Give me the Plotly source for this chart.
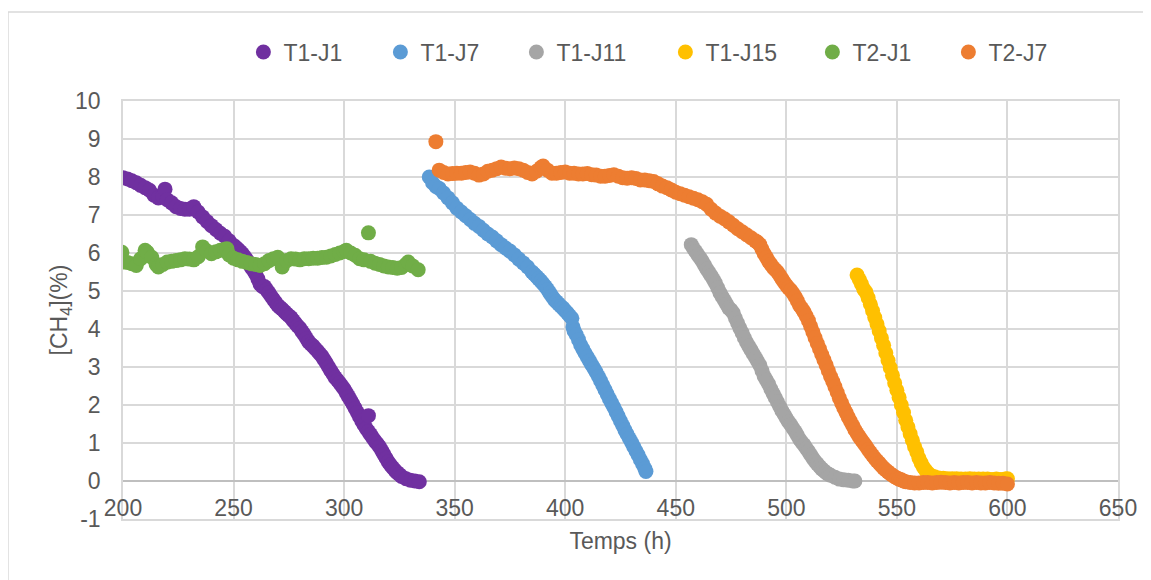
import plotly.graph_objects as go

# ---------------- data ----------------
t1j1_x = [200, 202, 204, 206, 208, 210, 212, 214, 216, 218, 219, 220, 222, 224, 226, 228, 230, 232, 234, 236,
          238, 240, 242, 244, 246, 248, 250, 251, 252, 253, 254, 255, 256, 257, 258, 259, 260, 261, 262, 263,
          264, 265, 266, 267, 268, 269, 270, 271, 272, 273, 274, 275, 276, 277, 278, 279, 280, 281, 282, 283,
          284, 285, 286, 287, 288, 289, 290, 291, 292, 293, 294, 295, 296, 297, 298, 299, 300, 301, 302, 303,
          304, 305, 306, 307, 308, 309, 310, 311, 311, 312, 313, 314, 315, 316, 317, 318, 319, 320, 321, 322,
          323, 324, 325, 326, 328, 330, 332, 334]
t1j1_y = [7.98, 7.95, 7.90, 7.85, 7.78, 7.72, 7.65, 7.52, 7.45, 7.50, 7.68, 7.40, 7.32, 7.22, 7.17, 7.15, 7.15, 7.22, 7.08, 6.95,
          6.83, 6.72, 6.62, 6.52, 6.44, 6.32, 6.20, 6.15, 6.10, 6.04, 5.98, 5.90, 5.82, 5.72, 5.62, 5.54, 5.45, 5.32, 5.18, 5.12,
          5.12, 5.03, 4.95, 4.86, 4.78, 4.70, 4.62, 4.57, 4.52, 4.46, 4.40, 4.35, 4.30, 4.22, 4.15, 4.08, 4.02, 3.93, 3.85, 3.75,
          3.66, 3.60, 3.55, 3.48, 3.42, 3.35, 3.28, 3.19, 3.10, 3.00, 2.90, 2.81, 2.72, 2.65, 2.58, 2.50, 2.42, 2.32, 2.22, 2.12,
          2.02, 1.91, 1.80, 1.69, 1.58, 1.48, 1.38, 1.30, 1.72, 1.22, 1.13, 1.05, 0.98, 0.90, 0.80, 0.70, 0.60, 0.50, 0.42, 0.35,
          0.28, 0.22, 0.17, 0.12, 0.06, 0.02, 0.00, -0.02]

t1j7_x = [338.5, 340, 341.5, 343, 345, 347, 349, 351, 353, 355, 357, 359, 361, 363, 365, 367, 369, 371, 373, 375,
          377, 379, 381, 383, 385, 386, 387, 388, 389, 390, 391, 392, 393, 394, 395, 396, 397, 398, 399, 400,
          401, 402, 403, 403.5, 404, 405, 406, 407, 408, 409, 410, 411, 412, 413, 414, 415, 416, 417, 418, 419,
          420, 421, 422, 423, 424, 425, 426, 427, 428, 429, 430, 431, 432, 433, 434, 435, 436, 436.5]
t1j7_y = [8.00, 7.85, 7.75, 7.70, 7.58, 7.45, 7.32, 7.18, 7.08, 6.98, 6.88, 6.78, 6.70, 6.60, 6.50, 6.42, 6.32, 6.22, 6.13, 6.05,
          5.95, 5.84, 5.74, 5.63, 5.50, 5.44, 5.38, 5.32, 5.26, 5.19, 5.12, 5.04, 4.95, 4.86, 4.78, 4.72, 4.66, 4.60, 4.55, 4.48,
          4.42, 4.35, 4.28, 4.05, 3.95, 3.85, 3.72, 3.58, 3.47, 3.36, 3.26, 3.16, 3.06, 2.96, 2.86, 2.75, 2.64, 2.52, 2.40, 2.28,
          2.16, 2.05, 1.94, 1.82, 1.70, 1.58, 1.46, 1.34, 1.23, 1.12, 1.01, 0.90, 0.79, 0.68, 0.56, 0.45, 0.33, 0.25]

t1j11_x = [457, 458, 459, 460, 461, 462, 463, 464, 465, 466, 467, 468, 469, 470, 471, 472, 473, 474, 475, 476,
           477, 478, 479, 480, 481, 482, 483, 484, 485, 486, 487, 488, 489, 490, 491, 492, 493, 494, 495, 496,
           497, 498, 499, 500, 501, 502, 503, 504, 505, 506, 507, 508, 509, 510, 511, 512, 513, 514, 515, 516,
           517, 518, 519, 520, 522, 524, 526, 528, 530, 531]
t1j11_y = [6.22, 6.12, 6.04, 5.95, 5.87, 5.78, 5.68, 5.58, 5.49, 5.40, 5.30, 5.20, 5.08, 4.95, 4.85, 4.75, 4.65, 4.55, 4.50, 4.42,
           4.28, 4.15, 4.02, 3.90, 3.77, 3.65, 3.55, 3.45, 3.35, 3.25, 3.15, 3.05, 2.90, 2.75, 2.65, 2.55, 2.42, 2.30, 2.19, 2.08,
           1.96, 1.85, 1.75, 1.65, 1.56, 1.48, 1.39, 1.30, 1.20, 1.10, 1.02, 0.95, 0.86, 0.78, 0.69, 0.60, 0.52, 0.45, 0.38, 0.32,
           0.27, 0.22, 0.18, 0.15, 0.10, 0.05, 0.03, 0.02, 0.00, 0.00]

t1j15_x = [532, 533, 534, 535, 536, 537, 538, 539, 540, 541, 542, 543, 544, 545, 546, 547, 548, 549, 550, 551,
           552, 553, 554, 555, 556, 557, 558, 559, 560, 561, 562, 563, 564, 565, 567, 569, 571, 573, 575, 577,
           579, 581, 583, 585, 587, 589, 591, 593, 595, 597, 599, 600]
t1j15_y = [5.42, 5.30, 5.18, 5.05, 4.97, 4.82, 4.65, 4.48, 4.30, 4.13, 3.95, 3.76, 3.57, 3.37, 3.17, 2.98, 2.78, 2.58, 2.39, 2.20,
           2.00, 1.80, 1.60, 1.42, 1.24, 1.07, 0.90, 0.76, 0.60, 0.47, 0.36, 0.28, 0.21, 0.16, 0.11, 0.08, 0.07, 0.06, 0.06, 0.06,
           0.05, 0.05, 0.06, 0.05, 0.05, 0.05, 0.05, 0.04, 0.05, 0.04, 0.05, 0.06]

t2j1_x = [199.5, 200, 202, 204, 206, 208, 210, 211, 213, 215, 216, 218, 220, 222, 224, 226, 228, 230, 232, 234,
          236, 238, 240, 242, 244, 246, 247, 248, 250, 252, 254, 256, 258, 260, 262, 264, 266, 268, 270, 272,
          274, 276, 278, 280, 282, 284, 286, 288, 290, 292, 294, 296, 298, 300, 301, 303, 305, 307, 309, 311,
          312, 314, 316, 318, 320, 322, 324, 326, 328, 329, 331, 333.5]
t2j1_y = [6.02, 5.76, 5.75, 5.72, 5.67, 5.85, 6.07, 6.02, 5.89, 5.70, 5.63, 5.70, 5.76, 5.78, 5.80, 5.82, 5.85, 5.84, 5.82, 5.90,
          6.16, 6.05, 5.98, 6.03, 6.07, 6.10, 6.11, 5.95, 5.86, 5.82, 5.78, 5.75, 5.72, 5.70, 5.67, 5.72, 5.80, 5.85, 5.89, 5.63,
          5.80, 5.85, 5.84, 5.82, 5.85, 5.85, 5.86, 5.86, 5.88, 5.89, 5.92, 5.96, 6.00, 6.04, 6.07, 6.00, 5.94, 5.85, 5.82, 6.53,
          5.78, 5.73, 5.70, 5.66, 5.63, 5.62, 5.60, 5.62, 5.70, 5.76, 5.66, 5.56]

t2j7_x = [341.5, 343, 345, 347, 349, 351, 353, 355, 357, 359, 361, 363, 365, 367, 369, 371, 373, 375, 377, 379,
          381, 383, 385, 387, 389, 390, 392, 394, 396, 398, 400, 402, 404, 406, 408, 410, 412, 414, 416, 418,
          420, 422, 424, 426, 428, 430, 432, 434, 436, 438, 440, 442, 444, 446, 448, 450, 452, 454, 456, 458,
          460, 462, 464, 466, 468, 470, 472, 474, 476, 478, 480, 482, 484, 486, 487, 488, 489, 490, 491, 492,
          493, 494, 495, 496, 497, 498, 499, 500, 501, 502, 503, 504, 505, 506, 507, 508, 509, 510, 511, 512,
          513, 514, 515, 516, 517, 518, 519, 520, 521, 522, 523, 524, 525, 526, 527, 528, 529, 530, 531, 532,
          533, 534, 535, 536, 537, 538, 539, 540, 541, 542, 543, 544, 545, 546, 547, 548, 549, 550, 551, 552,
          553, 554, 556, 558, 560, 562, 564, 566, 568, 570, 572, 574, 576, 578, 580, 582, 584, 586, 588, 590,
          592, 594, 596, 598, 600]
t2j7_y = [8.93, 8.18, 8.12, 8.08, 8.09, 8.10, 8.10, 8.12, 8.13, 8.10, 8.05, 8.08, 8.15, 8.18, 8.22, 8.26, 8.23, 8.22, 8.24, 8.22,
          8.18, 8.12, 8.08, 8.15, 8.25, 8.29, 8.18, 8.10, 8.10, 8.12, 8.13, 8.10, 8.10, 8.08, 8.08, 8.09, 8.06, 8.05, 8.02, 8.02,
          8.04, 8.06, 8.02, 7.98, 7.97, 7.98, 7.96, 7.92, 7.92, 7.90, 7.88, 7.82, 7.76, 7.72, 7.66, 7.60, 7.56, 7.52, 7.48, 7.44,
          7.40, 7.35, 7.28, 7.15, 7.05, 6.97, 6.90, 6.82, 6.73, 6.64, 6.56, 6.48, 6.40, 6.32, 6.28, 6.22, 6.10, 5.98, 5.88, 5.78,
          5.70, 5.62, 5.56, 5.50, 5.41, 5.32, 5.23, 5.15, 5.08, 5.02, 4.94, 4.85, 4.74, 4.62, 4.54, 4.45, 4.34, 4.22, 4.07, 3.92,
          3.77, 3.62, 3.48, 3.33, 3.19, 3.05, 2.90, 2.75, 2.62, 2.48, 2.33, 2.18, 2.05, 1.92, 1.80, 1.68, 1.57, 1.46, 1.35, 1.25,
          1.16, 1.08, 1.00, 0.92, 0.83, 0.75, 0.67, 0.60, 0.53, 0.47, 0.40, 0.34, 0.29, 0.24, 0.19, 0.15, 0.11, 0.08, 0.05, 0.03,
          0.00, -0.02, -0.04, -0.05, -0.05, -0.04, -0.04, -0.05, -0.04, -0.03, -0.04, -0.05, -0.04, -0.05, -0.04, -0.04, -0.05, -0.04, -0.05, -0.05,
          -0.04, -0.05, -0.06, -0.06, -0.08]

series_names = ["T1-J1", "T1-J7", "T1-J11", "T1-J15", "T2-J1", "T2-J7"]
series_x = [t1j1_x, t1j7_x, t1j11_x, t1j15_x, t2j1_x, t2j7_x]
series_y = [t1j1_y, t1j7_y, t1j11_y, t1j15_y, t2j1_y, t2j7_y]
series_colors = ["#7030A0", "#5B9BD5", "#A5A5A5", "#FFC000", "#70AD47", "#ED7D31"]
legend_widths = [92, 91, 104, 102, 91, 91]

x_ticks = [200, 250, 300, 350, 400, 450, 500, 550, 600, 650]
y_ticks = [-1, 0, 1, 2, 3, 4, 5, 6, 7, 8, 9, 10]

FONT = "Liberation Sans Narrow, Arial Narrow, Liberation Sans, Arial, sans-serif"
TXT = "#595959"
GRID = "#D9D9D9"

fig = go.Figure()
for name, xs, ys, col, lw in zip(series_names, series_x, series_y, series_colors, legend_widths):
    fig.add_trace(go.Scatter(
        x=xs, y=ys, name=name, mode="markers",
        marker=dict(size=15, color=col, line=dict(width=0)),
        legendwidth=lw,
    ))

# page body has an 8px margin: the figure is sized/offset to compensate
fig.update_layout(
    width=1143, height=572,
    margin=dict(l=115, r=33, t=93, b=61, autoexpand=False),
    paper_bgcolor="white", plot_bgcolor="white",
    font=dict(family=FONT, size=23, color=TXT),
    showlegend=True,
    legend=dict(
        orientation="h", x=0.121, xanchor="left", y=1.117, yanchor="middle",
        font=dict(family=FONT, size=23, color=TXT),
        bgcolor="rgba(0,0,0,0)",
        itemclick=False,
    ),
    shapes=[dict(type="rect", xref="paper", yref="paper",
                 x0=-0.1156, x1=1.05, y0=-0.2, y1=1.213,
                 line=dict(color=GRID, width=1.5), fillcolor="rgba(0,0,0,0)", layer="below")],
)

fig.update_xaxes(
    range=[200, 650], tickvals=x_ticks, ticktext=[str(v) for v in x_ticks],
    showgrid=True, gridcolor=GRID, gridwidth=1.5,
    showline=True, linecolor=GRID, linewidth=1.5, mirror=True,
    zeroline=False, ticks="",
    ticklabelposition="inside", ticklabeloverflow="allow",
    tickfont=dict(family=FONT, size=23, color=TXT),
    title=dict(text="Temps (h)", font=dict(family=FONT, size=23, color=TXT), standoff=13),
    automargin=False,
)
fig.update_yaxes(
    range=[-1, 10], tickvals=y_ticks, ticktext=[str(v) for v in y_ticks],
    showgrid=True, gridcolor=GRID, gridwidth=1.5,
    showline=True, linecolor=GRID, linewidth=1.5, mirror=True,
    zeroline=True, zerolinecolor="#BFBFBF", zerolinewidth=1.5,
    ticks="", ticklabelstandoff=16,
    tickfont=dict(family=FONT, size=23, color=TXT),
    title=dict(text="[CH<sub>4</sub>](%)", font=dict(family=FONT, size=23, color=TXT), standoff=1),
    automargin=False,
)

fig.write_html("out.html")
